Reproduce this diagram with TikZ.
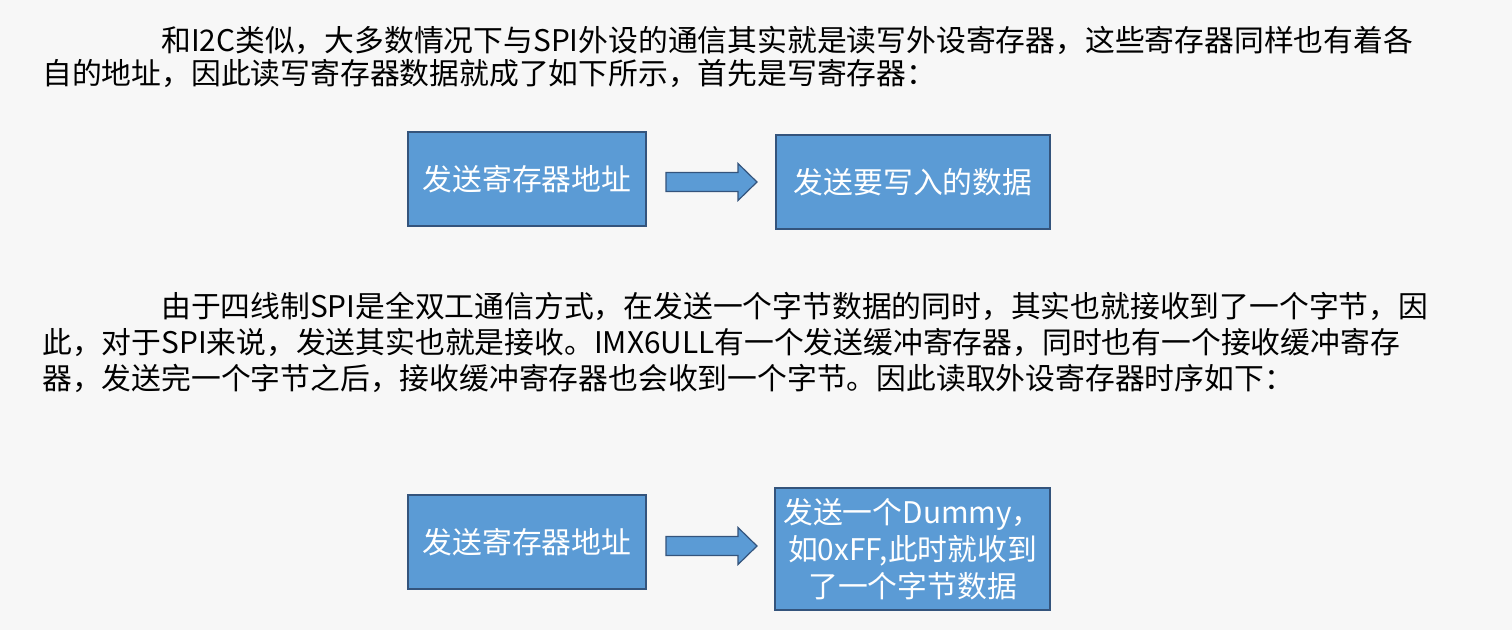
\documentclass[tikz,border=0pt]{standalone}
\usepackage{fontspec}
\setmainfont{Noto Sans CJK SC}
\definecolor{boxfill}{RGB}{91,155,213}
\definecolor{boxline}{RGB}{52,84,124}
\definecolor{pagebg}{RGB}{247,247,247}
\begin{document}
\begin{tikzpicture}[x=1pt, y=-1pt,
    txt/.style={anchor=base west, inner sep=0pt, font=\fontsize{29.8}{36}\selectfont},
    blk/.style={draw=boxline, line width=1.2pt, fill=boxfill, text=white, inner sep=0pt,
        font=\fontsize{29.8}{37}\selectfont, align=center},
    fwd/.style={draw=boxline, line width=1.2pt, fill=boxfill, line join=miter}]
        % page
        \fill[pagebg] (0,0) rectangle (1512,630);
        \useasboundingbox (0,0) rectangle (1512,630);

        % Paragraph 1
        \node[txt] (p1a) at (161,51.4) {和I2C类似，大多数情况下与SPI外设的通信其实就是读写外设寄存器，这些寄存器同样也有着各};
        \node[txt] (p1b) at (42,84.4) {自的地址，因此读写寄存器数据就成了如下所示，首先是写寄存器：};

        % Write sequence
        \node[blk, minimum width=238pt, minimum height=94pt] (wraddr) at (527,179) {发送寄存器地址};
        \node[blk, minimum width=274pt, minimum height=94pt] (wrdata) at (913,182) {发送要写入的数据};
        \draw[fwd] (666,172.5) -- (738,172.5) -- (738,163.5) -- (757,182)
            -- (738,200.5) -- (738,191.5) -- (666,191.5) -- cycle;

        % Paragraph 2
        \node[txt] (p2a) at (161,317.4) {由于四线制SPI是全双工通信方式，在发送一个字节数据的同时，其实也就接收到了一个字节，因};
        \node[txt] (p2b) at (42,353.4) {此，对于SPI来说，发送其实也就是接收。IMX6ULL有一个发送缓冲寄存器，同时也有一个接收缓冲寄存};
        \node[txt] (p2c) at (42,389.4) {器，发送完一个字节之后，接收缓冲寄存器也会收到一个字节。因此读取外设寄存器时序如下：};

        % Read sequence
        \node[blk, minimum width=238pt, minimum height=94pt] (rdaddr) at (527,542) {发送寄存器地址};
        \node[blk, minimum width=275pt, minimum height=122pt] (rddummy) at (912.5,549) {发送一个Dummy，\\如0xFF,此时就收到\\了一个字节数据};
        \draw[fwd] (666,536.5) -- (738,536.5) -- (738,527.5) -- (757,546)
            -- (738,564.5) -- (738,555.5) -- (666,555.5) -- cycle;

    \end{tikzpicture}
\end{document}
